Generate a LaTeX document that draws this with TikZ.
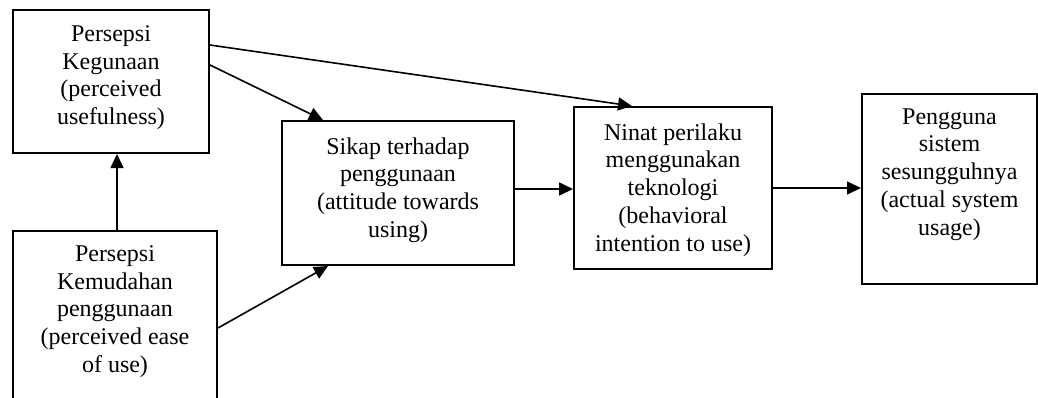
\documentclass[tikz,border=0pt]{standalone}
\usepackage{fontspec}
\setmainfont{Liberation Serif}
\usetikzlibrary{arrows.meta,calc}
\tikzset{
  box/.style={draw, line width=1pt, inner sep=0pt, anchor=north west},
  txt/.style={anchor=north, align=center, inner sep=0pt, font=\fontsize{12pt}{13.9pt}\selectfont},
  arr/.style={line width=0.8pt, -{Triangle[length=7pt,width=6.5pt]}}
}
\begin{document}
\begin{tikzpicture}[x=1pt,y=1pt]
\useasboundingbox (0,0) rectangle (519,-198.5);
\clip (0,0) rectangle (519,-198.5);
% boxes
\node[box, minimum width=98pt, minimum height=71.5pt] (A) at (6,-4.5) {};
\node[box, minimum width=102pt, minimum height=100pt] (B) at (6,-115) {};
\node[box, minimum width=116pt, minimum height=72pt] (C) at (140.5,-60) {};
\node[box, minimum width=99pt, minimum height=81pt] (D) at (286.5,-53) {};
\node[box, minimum width=87.5pt, minimum height=95pt] (E) at (430.5,-46.5) {};
% texts
\node[txt] (At) at ([yshift=-8pt]A.north) {Persepsi\\Kegunaan\\(perceived\\usefulness)};
\node[txt] (Bt) at ([yshift=-7.5pt]B.north) {Persepsi\\Kemudahan\\penggunaan\\(perceived ease\\of use)};
\node[txt] (Ct) at ([yshift=-8.5pt]C.north) {Sikap terhadap\\penggunaan\\(attitude towards\\using)};
\node[txt] (Dt) at ([yshift=-8.5pt]D.north) {Ninat perilaku\\menggunakan\\teknologi\\(behavioral\\intention to use)};
\node[txt] (Et) at ([yshift=-7.5pt]E.north) {Pengguna\\sistem\\sesungguhnya\\(actual system\\usage)};
% connectors
\draw[arr] ([yshift=-28pt]A.north east) -- ([xshift=21pt]C.north west);
\draw[arr] ([yshift=-18pt]A.north east) -- ([xshift=29.5pt]D.north west);
\draw[arr] ([xshift=1pt]B.north) -- ([xshift=1pt]B.north |- A.south);
\draw[arr] ([yshift=-49pt]B.north east) -- ([xshift=23.5pt]C.south west);
\draw[arr] ([yshift=2pt]C.east) -- ([yshift=2pt]C.east -| D.west);
\draw[arr] (D.east) -- (D.east -| E.west);
\end{tikzpicture}
\end{document}
